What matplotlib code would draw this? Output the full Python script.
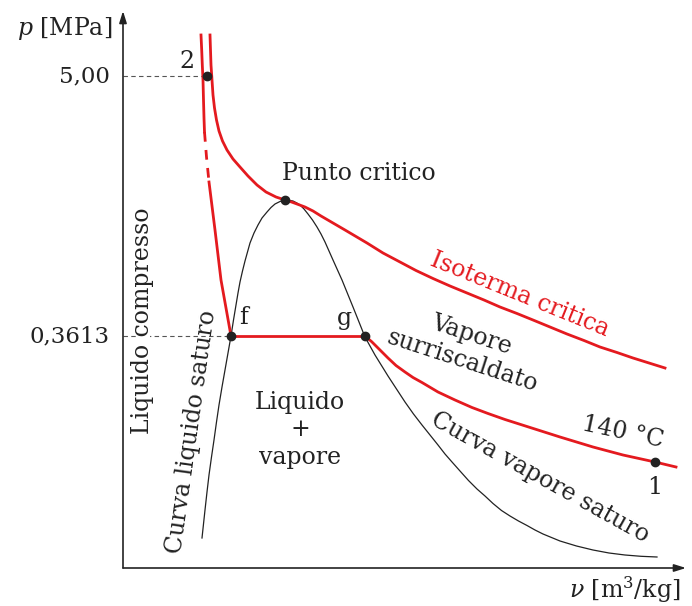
import matplotlib
matplotlib.use("Agg")
import matplotlib.pyplot as plt

plt.rcParams['font.family'] = 'DejaVu Serif'
plt.rcParams['mathtext.fontset'] = 'dejavuserif'

RED = '#e41a1f'
INK = '#222222'

# compressed liquid branch at 140 C (upper part, dashed gap, lower part)
liq_v = [78, 78.7, 79.3, 80, 80.5, 81, 81.5, 83.5, 86, 89, 92, 95, 98, 103, 108]
liq_p = [533, 518, 503, 488, 468, 450, 436, 411, 386, 362, 338, 313, 288, 260, 232]

# critical isotherm
crit_v = [87, 87.5, 88, 89, 90, 91.5, 93.5, 96, 99.5, 104, 110, 117, 125, 134, 143, 153,
          162, 168.5, 174, 182, 190, 198, 210, 222, 233, 244, 260, 277, 293, 310, 327,
          344, 361, 377, 394, 410, 427, 444, 461, 477, 494, 510, 526, 542]
crit_p = [533, 518, 503, 488, 473, 460, 448, 437, 427, 418, 409, 401, 392, 383, 376, 371,
          368, 366, 364, 361, 357, 352, 345, 338, 331.5, 325, 315, 306, 297.5, 289.5, 282,
          275, 268, 261, 254.5, 248, 241, 234, 227.5, 221, 215.5, 210, 205, 200]

# superheated branch of the 140 C isotherm
iso_v = [242, 248.7, 257, 265, 273, 282, 290, 299, 315, 332, 349, 365, 382, 404, 437, 470,
         500, 532, 553]
iso_p = [232, 226.3, 218, 210, 202.5, 196, 190.5, 185.5, 176, 168, 160.5, 154.5, 148.5,
         141.5, 131, 121, 113, 106, 101]

# saturation dome
dome_v = [79, 80.5, 82, 84, 86, 88.5, 91, 93.5, 96, 99,
          102, 105, 108, 110.5, 113, 115, 117, 119.5, 122, 124.5,
          127, 131, 135, 139, 144, 148, 152, 157, 162, 166,
          170, 173.5, 177, 181, 185, 189.5, 194, 198, 202, 206,
          210, 214.5, 219, 224.5, 230, 236, 242, 247, 252, 258.5,
          265, 273.5, 282, 290.5, 299, 307, 315, 322, 329, 337,
          345.5, 354, 362, 370, 378.5, 387, 395.5, 404, 412, 420,
          428.5, 437, 453.5, 470, 486, 502, 518, 534]
dome_p = [30, 44, 58, 76, 93, 111, 128, 146, 163, 181,
          198, 215, 232, 248, 263, 275, 286, 297, 307, 316,
          325, 335, 343, 350, 356, 360.5, 364, 366.5, 368, 367.7,
          367, 365.2, 363, 359, 354, 348, 341, 334, 326, 317,
          308, 298, 288, 274.5, 261, 246, 231, 222, 213, 202.5,
          192, 179, 166, 154, 143, 133, 123, 114, 106, 97,
          87.5, 79, 72, 64.5, 57.5, 52, 47, 42.5, 38, 34,
          30.5, 27, 22, 18, 15, 13, 11.7, 11]

p_sat = 232
v_f, v_g = 108, 242
crit = (162, 368)
state1 = (532, 106)
state2 = (84, 492)
p_ticks = [492, 232]
p_labels = ['5,00', '0,3613']

fig = plt.figure(figsize=(6.92, 6.06), dpi=100)
ax = fig.add_axes([0, 0, 1, 1])
ax.set_xlim(-123, 569)
ax.set_ylim(-38, 568)
ax.axis('off')

# axes arrows
arrow = dict(arrowstyle='-|>,head_length=0.7,head_width=0.22', color=INK, lw=1.2,
             shrinkA=0, shrinkB=0)
ax.annotate('', xy=(0, 557), xytext=(0, 0), arrowprops=arrow)
ax.annotate('', xy=(563, 0), xytext=(0, 0), arrowprops=arrow)

# reference dashes
ax.plot([0, state2[0]], [p_ticks[0], p_ticks[0]], ls=(0, (4, 3)), color='#555555', lw=0.8)
ax.plot([0, v_f], [p_ticks[1], p_ticks[1]], ls=(0, (4, 3)), color='#555555', lw=0.8)
for p, lab in zip(p_ticks, p_labels):
    ax.text(-13, p, lab, ha='right', va='center', fontsize=16.5, color=INK)

ax.plot(dome_v, dome_p, color=INK, lw=0.9)

ax.plot(liq_v[:7], liq_p[:7], color=RED, lw=2)
ax.plot(liq_v[6:9], liq_p[6:9], color=RED, lw=2, ls=(0, (3.5, 3)))
ax.plot(liq_v[8:], liq_p[8:], color=RED, lw=2)
ax.plot([v_f, v_g], [p_sat, p_sat], color=RED, lw=2)
ax.plot(iso_v, iso_p, color=RED, lw=2)
ax.plot(crit_v, crit_p, color=RED, lw=2)

for pt in [(v_f, p_sat), (v_g, p_sat), crit, state1, state2]:
    ax.plot(*pt, 'o', color=INK, ms=6, zorder=5)

txt = dict(fontsize=17, color=INK, ha='center', va='center')
ax.text(-58, 540, '$p$ [MPa]', **txt)
ax.text(502, -22, r'$\nu$ [m$^3$/kg]', **txt)
ax.text(64, 506, '2', **txt)
ax.text(236, 394, 'Punto critico', **txt)
ax.text(120, 250, 'f', **txt)
ax.text(221, 250, 'g', **txt)
ax.text(532, 80, '1', **txt)
ax.text(397, 273, 'Isoterma critica', rotation=-22, rotation_mode='anchor',
        **{**txt, 'color': RED})
ax.text(344, 220, 'Vapore\nsurriscaldato', rotation=-18, rotation_mode='anchor',
        linespacing=1.2, **txt)
ax.text(500, 136, '140 °C', rotation=-12, rotation_mode='anchor', **txt)
ax.text(417, 91, 'Curva vapore saturo', rotation=-29, rotation_mode='anchor', **txt)
ax.text(69, 136, 'Curva liquido saturo', rotation=82, rotation_mode='anchor', **txt)
ax.text(177, 138, 'Liquido\n+\nvapore', linespacing=1.25, **txt)
ax.text(20, 247, 'Liquido compresso', rotation=90, rotation_mode='anchor',
        bbox=dict(facecolor='white', edgecolor='none', pad=-3), zorder=4, **txt)

fig.savefig('out.png', dpi=100)
